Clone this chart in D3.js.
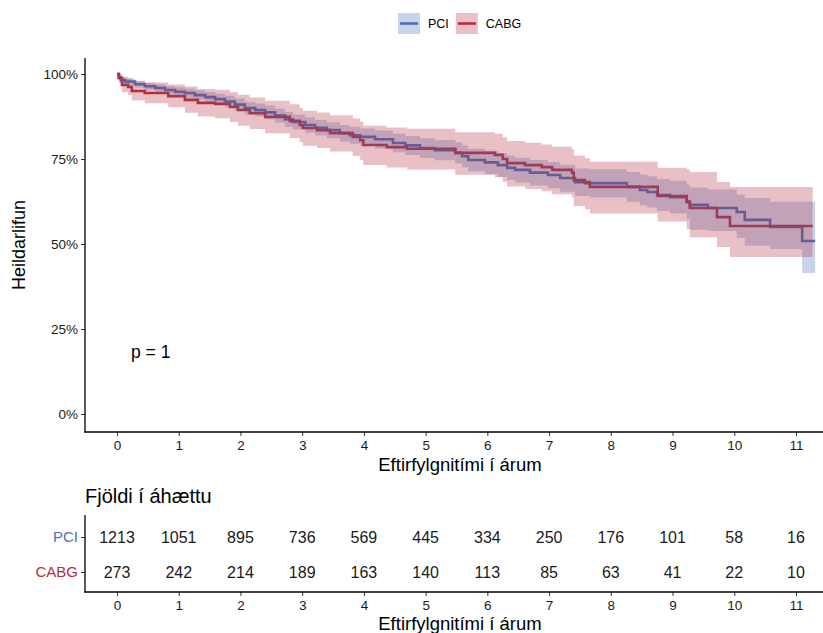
<!DOCTYPE html>
<html>
<head>
<meta charset="utf-8">
<script src="https://cdn.jsdelivr.net/npm/d3@7"></script>
<style>
  body { margin: 0; background: #fff; }
  svg { font-family: "Liberation Sans", Arial, sans-serif; }
</style>
</head>
<body>
<div id="chart"></div>
<script>
// ---- data ----
const groups = ["PCI", "CABG"];
const timeBreaks = [0, 1, 2, 3, 4, 5, 6, 7, 8, 9, 10, 11];
const yTicks = [0, 25, 50, 75, 100];

const pciTime  = [0, 0.03, 0.065, 0.13, 0.29, 0.45, 0.62, 0.78, 0.94, 1.10, 1.26, 1.43, 1.59, 1.75, 1.91, 2.07, 2.24, 2.40, 2.56, 2.72, 2.85, 3.05, 3.21, 3.40, 3.61, 3.77, 3.94, 4.18, 4.47, 4.67, 4.91, 5.15, 5.48, 5.59, 5.69, 5.96, 6.17, 6.32, 6.45, 6.69, 6.98, 7.18, 7.42, 7.66, 8.26, 8.47, 8.59, 8.75, 8.96, 9.23, 9.28, 9.57, 10.04, 10.17, 10.58, 11.10, 11.31];
const pciSurv  = [100, 99.0, 98.2, 97.8, 97.0, 96.4, 95.9, 95.3, 94.8, 94.4, 93.8, 93.2, 92.6, 91.9, 91.0, 90.0, 89.4, 88.7, 87.8, 86.7, 85.9, 85.0, 84.2, 83.5, 82.6, 82.0, 81.5, 80.8, 79.7, 79.0, 78.2, 77.6, 76.8, 75.8, 74.7, 74.0, 73.2, 72.4, 71.8, 71.0, 70.3, 69.4, 68.2, 67.9, 66.8, 65.9, 65.3, 64.4, 63.8, 62.4, 61.5, 60.6, 59.4, 57.1, 55.0, 50.9, 50.9];
const pciUpper = [100, 99.6, 99.0, 98.7, 98.0, 97.4, 97.0, 96.5, 96.1, 95.7, 95.2, 94.7, 94.2, 93.6, 92.8, 91.8, 91.3, 90.7, 89.8, 88.8, 88.0, 87.2, 86.5, 85.8, 85.0, 84.5, 84.0, 83.4, 82.4, 81.8, 81.1, 80.6, 79.9, 79.0, 78.0, 77.4, 76.7, 76.0, 75.4, 74.7, 74.1, 73.3, 72.2, 72.0, 71.2, 70.4, 69.9, 69.1, 68.6, 67.4, 66.6, 66.0, 64.5, 63.5, 62.4, 62.4, 62.4];
const pciLower = [100, 98.4, 97.4, 96.9, 96.0, 95.3, 94.8, 94.1, 93.5, 93.0, 92.4, 91.7, 91.0, 90.2, 89.2, 88.1, 87.5, 86.7, 85.7, 84.5, 83.7, 82.7, 81.9, 81.1, 80.1, 79.5, 78.9, 78.1, 77.0, 76.2, 75.3, 74.6, 73.7, 72.6, 71.4, 70.6, 69.7, 68.8, 68.1, 67.2, 66.4, 65.4, 64.1, 63.7, 62.4, 61.4, 60.7, 59.7, 59.0, 57.3, 54.2, 53.8, 51.8, 49.5, 48.5, 41.5, 41.5];

const cabgTime  = [0, 0.03, 0.08, 0.18, 0.24, 0.45, 0.83, 1.10, 1.31, 1.59, 1.83, 1.96, 2.15, 2.40, 2.80, 2.96, 3.01, 3.24, 3.45, 3.82, 3.94, 3.99, 4.37, 4.70, 5.48, 6.12, 6.25, 6.32, 6.61, 6.88, 7.05, 7.37, 7.40, 7.58, 7.66, 8.76, 9.23, 9.28, 9.72, 9.93, 11.27];
const cabgSurv  = [100, 98.8, 96.8, 96.2, 95.0, 94.4, 93.5, 92.4, 91.5, 91.2, 90.3, 89.4, 88.5, 87.4, 86.2, 85.0, 84.1, 83.5, 82.6, 81.5, 80.5, 79.1, 78.5, 78.0, 76.8, 76.2, 75.0, 73.8, 73.2, 72.6, 71.8, 71.0, 68.8, 67.9, 66.8, 64.1, 62.4, 60.6, 57.9, 55.3, 55.3];
const cabgUpper = [100, 100, 99.2, 98.8, 97.9, 97.5, 96.9, 96.3, 95.6, 95.4, 94.6, 93.9, 93.1, 92.1, 91.1, 90.0, 89.2, 88.7, 87.9, 86.9, 86.0, 84.8, 84.3, 83.9, 82.9, 82.4, 81.4, 80.3, 79.8, 79.3, 78.6, 77.9, 76.0, 75.2, 74.2, 72.4, 72.0, 71.2, 68.2, 66.8, 66.8];
const cabgLower = [100, 97.4, 94.6, 93.8, 92.2, 91.4, 90.2, 88.6, 87.5, 87.0, 85.9, 84.8, 83.8, 82.6, 81.2, 79.9, 78.9, 78.2, 77.2, 75.9, 74.7, 73.2, 72.5, 71.9, 70.4, 69.6, 68.2, 66.9, 66.2, 65.5, 64.6, 63.7, 61.2, 60.2, 59.0, 56.6, 54.4, 52.0, 49.1, 46.2, 46.2];

const pciAtRisk  = [1213, 1051, 895, 736, 569, 445, 334, 250, 176, 101, 58, 16];
const cabgAtRisk = [273, 242, 214, 189, 163, 140, 113, 85, 63, 41, 22, 10];

const pValueLabel = "p = 1";

// ---- layout ----
const W = 823, H = 633;
const colors = {PCI: "#4A6FB8", CABG: "#B2303E"};
const panel = {left: 85, right: 823, top: 58, bottom: 432};
const table = {top: 515, bottom: 592};

const svg = d3.select("#chart").append("svg")
  .attr("width", W).attr("height", H);

const x = d3.scaleLinear().domain([0, 11]).range([117, 796]);
const y = d3.scaleLinear().domain([0, 100]).range([414, 74]);

const series = [
  {name: "PCI", t: pciTime, s: pciSurv, up: pciUpper, lo: pciLower},
  {name: "CABG", t: cabgTime, s: cabgSurv, up: cabgUpper, lo: cabgLower}
].map(g => ({
  name: g.name,
  pts: g.t.map((t, i) => ({t: t, s: g.s[i], up: g.up[i], lo: g.lo[i]}))
}));

const line = d3.line().curve(d3.curveStepAfter)
  .x(d => x(d.t)).y(d => y(d.s));
const area = d3.area().curve(d3.curveStepAfter)
  .x(d => x(d.t)).y0(d => y(d.lo)).y1(d => y(d.up));

const plot = svg.append("g");

// curves first, then the confidence ribbons over them
plot.selectAll(".curve").data(series).join("path")
  .attr("class", "curve")
  .attr("d", d => line(d.pts))
  .attr("fill", "none")
  .attr("stroke", d => colors[d.name])
  .attr("stroke-width", 2.6);

plot.selectAll(".band").data(series).join("path")
  .attr("class", "band")
  .attr("d", d => area(d.pts))
  .attr("fill", d => colors[d.name])
  .attr("fill-opacity", 0.3)
  .attr("stroke", "none");

// axes of the main panel
const yAxis = svg.append("g")
  .attr("transform", `translate(${panel.left},0)`)
  .call(d3.axisLeft(y).tickValues(yTicks).tickFormat(d => d + "%").tickSize(4).tickPadding(3));
const xAxis = svg.append("g")
  .attr("transform", `translate(0,${panel.bottom})`)
  .call(d3.axisBottom(x).tickValues(timeBreaks).tickSize(4).tickPadding(4));

[yAxis, xAxis].forEach(a => {
  a.select(".domain").remove();
  a.selectAll("text").attr("font-size", 13.5).attr("fill", "#1a1a1a");
  a.selectAll(".tick line").attr("stroke", "#333").attr("stroke-width", 1);
});
xAxis.selectAll("text").attr("dy", "0.75em");

svg.append("line").attr("x1", panel.left).attr("x2", panel.left)
  .attr("y1", panel.top).attr("y2", panel.bottom + 0.6)
  .attr("stroke", "#000").attr("stroke-width", 1.3);
svg.append("line").attr("x1", panel.left - 0.6).attr("x2", panel.right)
  .attr("y1", panel.bottom).attr("y2", panel.bottom)
  .attr("stroke", "#000").attr("stroke-width", 1.3);

svg.append("text")
  .attr("transform", `translate(25,${(panel.top + panel.bottom) / 2}) rotate(-90)`)
  .attr("text-anchor", "middle").attr("font-size", 18)
  .text("Heildarlifun");
svg.append("text")
  .attr("x", 460).attr("y", 471)
  .attr("text-anchor", "middle").attr("font-size", 18.5)
  .text("Eftirfylgnitími í árum");

svg.append("text")
  .attr("x", 131).attr("y", 358)
  .attr("font-size", 17.5)
  .text(pValueLabel);

// legend
const legend = svg.append("g").attr("transform", "translate(398,13)");
let lx = 0;
groups.forEach(g => {
  const item = legend.append("g").attr("transform", `translate(${lx},0)`);
  item.append("rect").attr("width", 22).attr("height", 21)
    .attr("fill", colors[g]).attr("fill-opacity", 0.3);
  item.append("line").attr("x1", 2).attr("x2", 20).attr("y1", 10.5).attr("y2", 10.5)
    .attr("stroke", colors[g]).attr("stroke-width", 2.6);
  const t = item.append("text").attr("x", 30).attr("y", 15)
    .attr("font-size", 12.5).text(g);
  lx += 30 + t.node().getComputedTextLength() + 7;
});

// risk table
svg.append("text").attr("x", 85).attr("y", 503)
  .attr("font-size", 20).text("Fjöldi í áhættu");

const rowY = d3.scalePoint().domain(groups).range([537, 572]);
const atRisk = {PCI: pciAtRisk, CABG: cabgAtRisk};

const rows = svg.append("g");
groups.forEach(g => {
  rows.selectAll(".n-" + g).data(atRisk[g]).join("text")
    .attr("class", "n-" + g)
    .attr("x", (d, i) => x(timeBreaks[i]))
    .attr("y", rowY(g))
    .attr("dy", "0.36em")
    .attr("text-anchor", "middle")
    .attr("font-size", 16)
    .attr("fill", "#1a1a1a")
    .text(d => d);
});

const tyAxis = svg.append("g")
  .attr("transform", `translate(${panel.left},0)`)
  .call(d3.axisLeft(rowY).tickSize(4).tickPadding(3));
tyAxis.select(".domain").remove();
tyAxis.selectAll("text").attr("font-size", 15).attr("fill", d => colors[d]);
tyAxis.selectAll(".tick line").attr("stroke", "#333");

const txAxis = svg.append("g")
  .attr("transform", `translate(0,${table.bottom})`)
  .call(d3.axisBottom(x).tickValues(timeBreaks).tickSize(4).tickPadding(4));
txAxis.select(".domain").remove();
txAxis.selectAll("text").attr("font-size", 13.5).attr("fill", "#1a1a1a").attr("dy", "0.75em");
txAxis.selectAll(".tick line").attr("stroke", "#333");

svg.append("line").attr("x1", panel.left).attr("x2", panel.left)
  .attr("y1", table.top).attr("y2", table.bottom + 0.6)
  .attr("stroke", "#000").attr("stroke-width", 1.3);
svg.append("line").attr("x1", panel.left - 0.6).attr("x2", panel.right)
  .attr("y1", table.bottom).attr("y2", table.bottom)
  .attr("stroke", "#000").attr("stroke-width", 1.3);

svg.append("text")
  .attr("x", 460).attr("y", 630)
  .attr("text-anchor", "middle").attr("font-size", 18.5)
  .text("Eftirfylgnitími í árum");
</script>
</body>
</html>
